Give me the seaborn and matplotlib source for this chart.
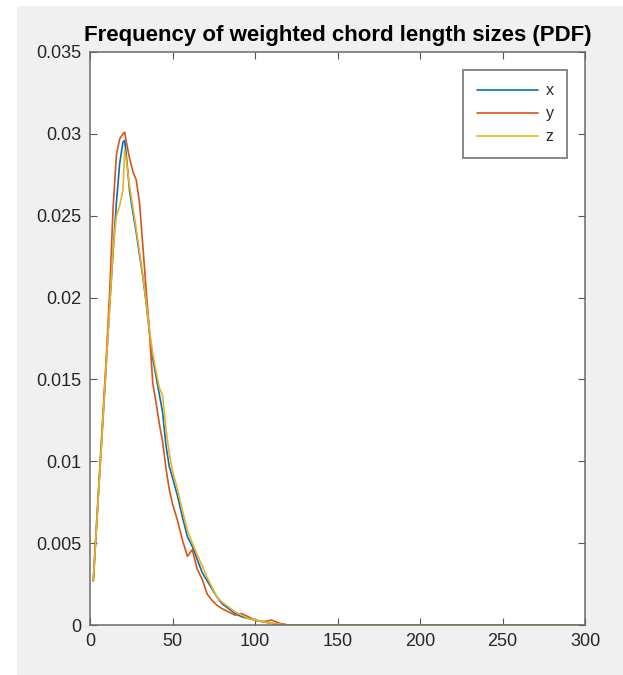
import numpy as np
import pandas as pd
import matplotlib
matplotlib.use("Agg")
import matplotlib.pyplot as plt
from matplotlib.patches import Rectangle
import seaborn as sns

# ---- data ----
chord_len = [2, 4, 6, 8, 10, 12, 14, 16, 18, 20, 21, 22, 24, 26, 28, 30, 32, 34, 36, 38,
             40, 42, 44, 46, 48, 50, 53, 56, 59, 62, 65, 68, 71, 74, 77, 80, 84, 88, 92,
             96, 100, 105, 110, 115, 120, 150, 200, 250, 300]
pdf_x = [0.0027, 0.0061, 0.0095, 0.0128, 0.0162, 0.0196, 0.0228, 0.0258, 0.0282, 0.0295,
         0.0296, 0.0287, 0.0265, 0.0252, 0.0240, 0.0226, 0.0213, 0.0197, 0.0179, 0.0163,
         0.0152, 0.0141, 0.0130, 0.0110, 0.0097, 0.0090, 0.0079, 0.0066, 0.0054, 0.0048,
         0.0040, 0.0032, 0.0027, 0.0022, 0.0017, 0.0013, 0.0010, 0.0007, 0.0005, 0.0004,
         0.0003, 0.0002, 0.0001, 0.00005, 0.0, 0.0, 0.0, 0.0, 0.0]
pdf_y = [0.0027, 0.0062, 0.0097, 0.0131, 0.0166, 0.0205, 0.0255, 0.0287, 0.0297, 0.0300,
         0.0301, 0.0295, 0.0285, 0.0277, 0.0272, 0.0258, 0.0232, 0.0205, 0.0180, 0.0148,
         0.0136, 0.0123, 0.0112, 0.0096, 0.0083, 0.0074, 0.0064, 0.0052, 0.0042, 0.0046,
         0.0034, 0.0028, 0.0019, 0.0015, 0.0012, 0.0010, 0.0008, 0.0006, 0.0007, 0.0005,
         0.0003, 0.0002, 0.0003, 0.0001, 0.0, 0.0, 0.0, 0.0, 0.0]
pdf_z = [0.0027, 0.0061, 0.0095, 0.0128, 0.0162, 0.0196, 0.0230, 0.0250, 0.0256, 0.0266,
         0.0290, 0.0284, 0.0268, 0.0255, 0.0242, 0.0228, 0.0214, 0.0198, 0.0180, 0.0166,
         0.0155, 0.0145, 0.0140, 0.0120, 0.0105, 0.0094, 0.0083, 0.0070, 0.0058, 0.0050,
         0.0043, 0.0036, 0.0029, 0.0023, 0.0017, 0.0014, 0.0011, 0.0008, 0.0006, 0.0004,
         0.0003, 0.0002, 0.0001, 0.00005, 0.0, 0.0, 0.0, 0.0, 0.0]
series_names = ["x", "y", "z"]
series_colors = ["#0072BD", "#D95319", "#EDB120"]
x_ticks = [0, 50, 100, 150, 200, 250, 300]
y_ticks = [0, 0.005, 0.01, 0.015, 0.02, 0.025, 0.03, 0.035]
y_tick_labels = ["0", "0.005", "0.01", "0.015", "0.02", "0.025", "0.03", "0.035"]
title = "Frequency of weighted chord length sizes (PDF)"

df = pd.concat([
    pd.DataFrame({"len": chord_len, "pdf": vals, "axis": name})
    for name, vals in zip(series_names, [pdf_x, pdf_y, pdf_z])
])

sns.set_style("white")
plt.rcParams["font.family"] = ["Liberation Sans", "DejaVu Sans"]

fig = plt.figure(figsize=(6.23, 6.75), dpi=100, facecolor="white")
fig.patches.append(Rectangle((17 / 623, 0), 1 - 17 / 623, 1 - 6 / 675,
                             transform=fig.transFigure, facecolor="#f0f0f0",
                             edgecolor="none", zorder=-10))
ax = fig.add_axes([90 / 623, 1 - 625 / 675, (585 - 90) / 623, (625 - 52) / 675])
ax.set_facecolor("white")

sns.lineplot(data=df, x="len", y="pdf", hue="axis", palette=series_colors,
             linewidth=1.2, ax=ax, legend=True, sort=False)

ax.set_xlim(0, 300)
ax.set_ylim(0, 0.035)
ax.set_xticks(x_ticks)
ax.set_xticklabels([str(t) for t in x_ticks])
ax.set_yticks(y_ticks)
ax.set_yticklabels(y_tick_labels)
ax.set_xlabel("")
ax.set_ylabel("")
ax.tick_params(direction="in", length=5, width=0.8, color="#555555",
               labelsize=13, labelcolor="#262626", top=True, right=True,
               bottom=True, left=True)
ax.tick_params(axis="x", pad=6)
ax.tick_params(axis="y", pad=6)
for s in ax.spines.values():
    s.set_visible(True)
    s.set_color("#6a6a6a")
    s.set_linewidth(1.1)

ax.set_title(title, fontsize=16, fontweight="bold", color="black", pad=8)

leg = ax.legend(loc="upper right", bbox_to_anchor=(0.964, 0.969), fontsize=11.5,
                frameon=True, fancybox=False, edgecolor="#6a6a6a",
                handlelength=3.8, handletextpad=0.5, borderpad=0.85,
                labelspacing=0.5, markerfirst=True, borderaxespad=0)
leg.get_frame().set_linewidth(1.4)
leg.set_title(None)

fig.savefig("out.png", dpi=100, facecolor="white")
